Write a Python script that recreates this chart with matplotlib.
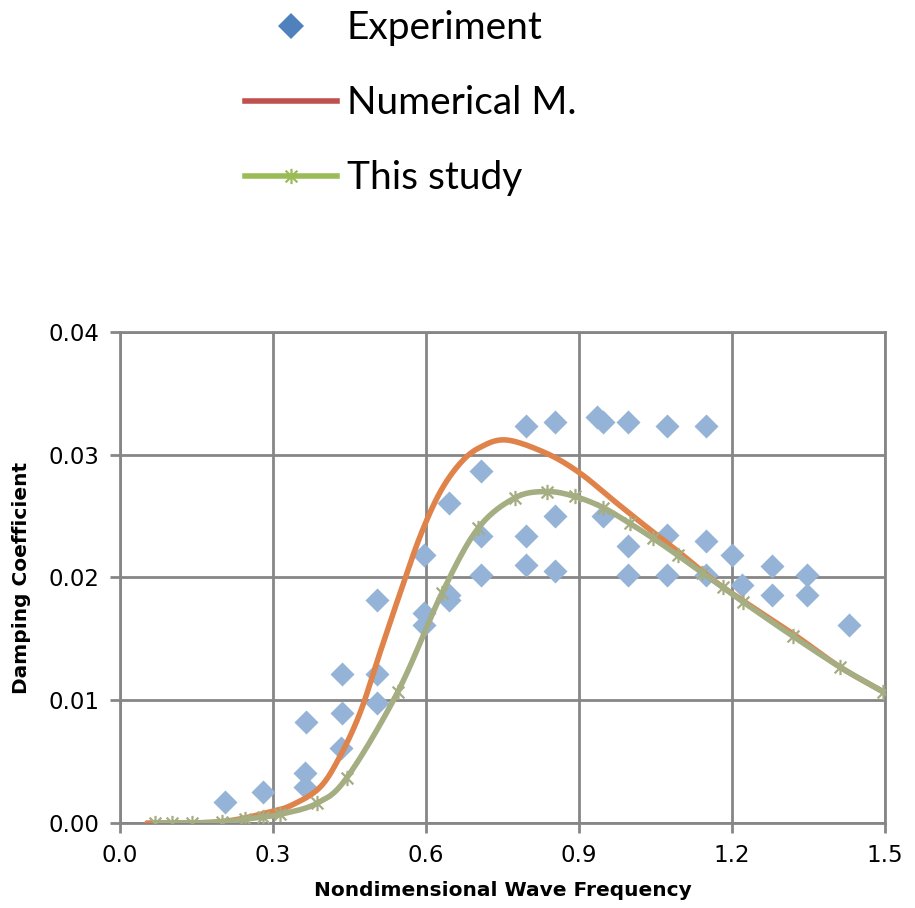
import numpy as np
import matplotlib
matplotlib.use('Agg')
import matplotlib.pyplot as plt
from matplotlib.lines import Line2D
from matplotlib.path import Path

# Experiment (scatter)
exp_x = [0.206, 0.280, 0.362, 0.362, 0.365, 0.435, 0.435, 0.433, 0.504, 0.504, 0.504,
         0.596, 0.596, 0.596, 0.645, 0.645, 0.645, 0.708, 0.708, 0.708,
         0.796, 0.796, 0.796, 0.853, 0.853, 0.853, 0.935, 0.947, 0.947,
         0.996, 0.996, 0.996, 1.073, 1.073, 1.073, 1.149, 1.149, 1.149,
         1.200, 1.220, 1.278, 1.278, 1.347, 1.347, 1.430]
exp_y = [0.0017, 0.0025, 0.0041, 0.0029, 0.0082, 0.0121, 0.0090, 0.0061, 0.0182, 0.0121, 0.0098,
         0.0218, 0.0171, 0.0161, 0.0261, 0.0186, 0.0182, 0.0287, 0.0234, 0.0202,
         0.0323, 0.0234, 0.0210, 0.0327, 0.0250, 0.0205, 0.0331, 0.0327, 0.0250,
         0.0327, 0.0226, 0.0202, 0.0323, 0.0235, 0.0202, 0.0323, 0.0230, 0.0202,
         0.0218, 0.0194, 0.0209, 0.0186, 0.0202, 0.0186, 0.0161]

# Numerical M. (smooth line, no markers)
num_x = [0.053, 0.196, 0.294, 0.339, 0.392, 0.431, 0.471, 0.510, 0.549, 0.588, 0.627,
         0.667, 0.706, 0.758, 0.837, 0.902, 0.967, 1.033, 1.098, 1.163, 1.229, 1.327,
         1.412, 1.496]
num_y = [0.0000, 0.0001, 0.0009, 0.0015, 0.0029, 0.0054, 0.0090, 0.0139, 0.0187, 0.0233, 0.0269,
         0.0293, 0.0306, 0.0312, 0.0301, 0.0285, 0.0263, 0.0241, 0.0220, 0.0198, 0.0179, 0.0152,
         0.0127, 0.0107]

# This study (smooth line with star markers)
cur_x = [0.069, 0.102, 0.141, 0.200, 0.245, 0.280, 0.314, 0.386, 0.445, 0.545, 0.631,
         0.702, 0.775, 0.837, 0.892, 0.947, 1.000, 1.045, 1.094, 1.141, 1.182, 1.222,
         1.320, 1.412, 1.496]
cur_y = [0.0000, 0.0000, 0.0000, 0.0001, 0.0003, 0.0005, 0.0007, 0.0016, 0.0037, 0.0107, 0.0187,
         0.0240, 0.0265, 0.0270, 0.0266, 0.0257, 0.0244, 0.0232, 0.0218, 0.0204, 0.0192, 0.0180,
         0.0152, 0.0127, 0.0107]


def smooth(x, y, n=20):
    # Catmull-Rom rendering, like Excel's "smoothed line"
    x = np.asarray(x, float)
    y = np.asarray(y, float)
    px = np.concatenate([[2 * x[0] - x[1]], x, [2 * x[-1] - x[-2]]])
    py = np.concatenate([[2 * y[0] - y[1]], y, [2 * y[-1] - y[-2]]])
    t = np.linspace(0, 1, n, endpoint=False)
    ox, oy = [], []
    for i in range(1, len(px) - 2):
        for p, o in ((px, ox), (py, oy)):
            p0, p1, p2, p3 = p[i - 1], p[i], p[i + 1], p[i + 2]
            o.extend(0.5 * (2 * p1 + (-p0 + p2) * t + (2 * p0 - 5 * p1 + 4 * p2 - p3) * t ** 2
                            + (-p0 + 3 * p1 - 3 * p2 + p3) * t ** 3))
    ox.append(x[-1])
    oy.append(y[-1])
    return ox, oy


# Excel-style star: x plus a vertical bar
star = Path([(-1, -1), (1, 1), (-1, 1), (1, -1), (0, -1.3), (0, 1.3)],
            [Path.MOVETO, Path.LINETO, Path.MOVETO, Path.LINETO, Path.MOVETO, Path.LINETO])

fig = plt.figure(figsize=(9.15, 9.08), dpi=100)
ax = fig.add_axes([0.1311, 0.0936, 0.8361, 0.5408])

grid_c = '#868686'
ax.scatter(exp_x, exp_y, marker='D', s=150, color='#95B3D7', linewidths=0, zorder=3)
sx, sy = smooth(num_x, num_y)
ax.plot(sx, sy, color='#E0834A', lw=4, solid_capstyle='round', zorder=4)
sx, sy = smooth(cur_x, cur_y)
ax.plot(sx, sy, color='#A5AD82', lw=4, solid_capstyle='round', zorder=5)
ax.plot(cur_x, cur_y, ls='none', marker=star, ms=11, mew=1.6, color='#A5AD82', zorder=6)

ax.set_xlim(0, 1.5)
ax.set_ylim(0, 0.04)
ax.set_xticks(np.arange(0, 1.51, 0.3))
ax.set_yticks(np.arange(0, 0.041, 0.01))
ax.xaxis.set_major_formatter(matplotlib.ticker.FormatStrFormatter('%.1f'))
ax.yaxis.set_major_formatter(matplotlib.ticker.FormatStrFormatter('%.2f'))
ax.grid(True, color=grid_c, lw=2)
ax.set_axisbelow(True)
for s in ax.spines.values():
    s.set_color(grid_c)
    s.set_linewidth(2)
ax.tick_params(direction='out', length=7, width=2, color=grid_c, labelsize=16.5, pad=8)
ax.set_xlabel('Nondimensional Wave Frequency', fontsize=14.5, fontweight='bold', labelpad=10)
ax.set_ylabel('Damping Coefficient', fontsize=14.5, fontweight='bold', labelpad=12)

handles = [
    Line2D([], [], ls='none', marker='D', ms=13, color='#4F81BD', mew=0),
    Line2D([], [], color='#C0504D', lw=4),
    Line2D([], [], color='#9BBB59', lw=4, marker=star, ms=11, mew=1.6),
]
fig.legend(handles, ['Experiment', 'Numerical M.', 'This study'],
           loc='upper left', bbox_to_anchor=(226 / 915, 1.01), frameon=False,
           prop={'family': 'Lato', 'size': 28}, labelspacing=1.0, borderpad=0,
           handlelength=2.35, handletextpad=0.25)

fig.savefig('out.png', dpi=100)
